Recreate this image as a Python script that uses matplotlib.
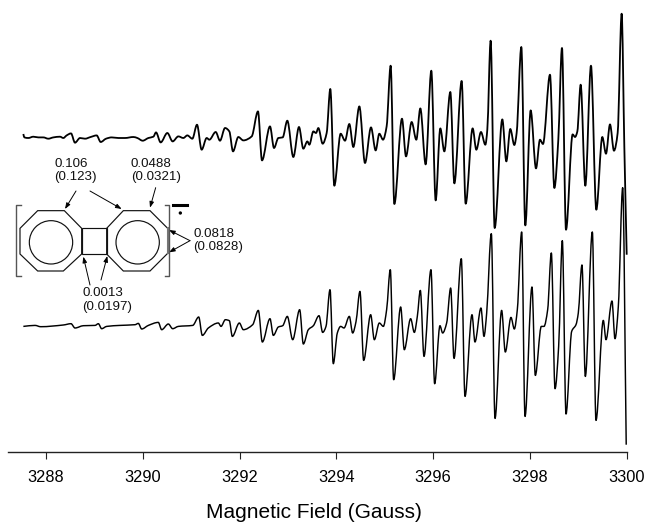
import matplotlib
matplotlib.use("Agg")
import matplotlib.pyplot as plt
from matplotlib.patches import Polygon, Circle, Rectangle, PathPatch
from matplotlib.path import Path
from matplotlib.transforms import Affine2D

plt.rcParams['font.family'] = ['Liberation Sans', 'DejaVu Sans']

upper_field = [3287.534,3287.555,3287.637,3287.740,3287.844,3287.947,3288.050,3288.154,3288.291,3288.360,3288.429,3288.519,
3288.601,3288.705,3288.808,3288.925,3289.049,3289.132,3289.242,3289.359,3289.497,3289.634,3289.807,3289.889,3290.000,3290.117,3290.220,
3290.275,3290.371,3290.509,3290.619,3290.736,3290.840,3290.922,3291.026,3291.122,3291.218,3291.322,3291.377,3291.508,3291.597,3291.701,3291.790,3291.866,
3291.976,3292.079,3292.252,3292.382,3292.465,3292.630,3292.713,3292.802,3292.892,3292.988,3293.112,3293.229,3293.319,3293.402,3293.443,3293.526,3293.581,3293.629,
3293.718,3293.801,3293.876,3293.959,3294.090,3294.180,3294.269,3294.352,3294.476,3294.593,3294.717,3294.813,3294.889,3294.965,3295.040,3295.123,3295.199,
3295.357,3295.440,3295.557,3295.653,3295.736,3295.846,3295.963,3296.053,3296.149,3296.232,3296.356,3296.439,3296.590,3296.673,3296.817,3296.893,3296.989,3297.079,3297.120,
3297.189,3297.272,3297.430,3297.513,3297.595,3297.678,3297.726,3297.823,3297.905,3298.016,3298.126,3298.208,3298.270,3298.415,3298.505,3298.587,3298.663,3298.746,
3298.883,3298.932,3298.980,3299.049,3299.145,3299.262,3299.372,3299.496,3299.572,3299.655,3299.737,3299.813,3299.896,3299.951,3300.000]
upper_signal = [317.7,314.3,313.7,315,314.3,314.3,313,314.3,315,313.7,316.3,318.3,
309,313.7,313,314.7,316.3,309.7,313,314.3,313.7,313.7,314.7,313.7,311,313.7,315,
319.3,309.3,318.7,310.3,315.3,313.7,316.3,313,327,302,313.7,312,319.7,311,323.7,320.3,300.3,
314.7,311.3,315.3,340.3,291.3,325.3,303.7,313.7,314.3,331,294.7,324.7,303,310.3,307,320.3,318.7,323.7,
308,318.7,362.7,266,318,311,327.7,304.7,345.3,288.7,324.3,301.3,318,312,325.3,386,247.7,
333,295.3,329.7,312,343.3,287.3,381,251.3,323.3,300.3,359.7,268.3,370.7,248,323.3,302,319.7,307,322,
411,223.7,332.3,290.3,322.7,306.7,318.7,404.7,226.3,341.3,283.3,312,307.7,377,263.7,312,403.7,222,
317.3,314.7,320.3,367,266,386,242,314.7,298,327.3,301,318.7,438,305,197]

lower_field = [3287.534,3287.775,3287.892,3288.360,3288.519,3288.601,3288.774,3289.015,3289.084,3289.152,3289.256,3289.531,3289.841,3289.910,3289.979,3290.117,
3290.323,3290.392,3290.530,3290.619,3290.736,3291.033,3291.157,3291.232,3291.356,3291.563,3291.618,3291.708,3291.790,3291.852,3291.997,3292.079,3292.272,
3292.389,3292.472,3292.630,3292.699,3292.802,3292.892,3292.988,3293.099,3293.243,3293.319,3293.422,3293.526,3293.643,
3293.718,3293.787,3293.870,3293.938,3294.021,3294.090,3294.159,3294.269,3294.338,3294.407,3294.489,3294.565,3294.710,3294.786,3294.889,3294.972,3295.040,
3295.116,3295.185,3295.330,3295.405,3295.536,3295.612,3295.674,3295.736,3295.812,3295.956,3296.032,3296.142,3296.197,3296.280,3296.363,3296.432,3296.583,3296.659,
3296.804,3296.865,3296.989,3297.051,3297.107,3297.203,3297.279,3297.416,3297.492,3297.609,3297.678,3297.740,3297.830,3297.899,3298.043,3298.112,3298.236,3298.291,
3298.367,3298.443,3298.519,3298.594,3298.670,3298.746,3298.863,3298.952,3299.000,3299.076,3299.145,3299.290,3299.365,3299.517,3299.572,3299.696,3299.758,3299.827,3299.917,3299.990]
lower_signal = [125.3,126.3,125,126.7,128,123.7,126,126.3,128,123,125.3,126.3,127,128.3,122.7,126.3,
129.3,122,127.7,123,125.3,126.3,134.7,116.3,123.7,128.7,125.3,132,131,115.3,128.7,122,127,
141.3,109.7,133,116.3,124.7,126,135.3,112,142,107.7,122,126,136,
119.3,125.3,162,88,118.7,125.3,123.7,135.3,118.7,130,160.3,91.3,137,112,128.7,125.3,142,
182,72,144.7,102,133,119.3,135.3,161.3,95.3,182,68,126,118.7,128.7,163.7,93.3,193,55.3,
137,109.7,143.7,115.3,138.7,218,33.3,141.3,99.7,134.3,122.7,142,219.7,35.3,164.7,76.3,125.3,125.3,
142,198.7,63,105.3,211,37.7,120.3,127,138.7,186.7,75.3,219.7,31.3,131.3,112,150.7,113,145.3,264,7]

tick_values = [3288, 3290, 3292, 3294, 3296, 3298, 3300]
x_label = "Magnetic Field (Gauss)"


def smooth_path(xs, ys):
    """Bezier path through the read points, rounded at the extrema."""
    n = len(xs)
    d = [(ys[i+1]-ys[i])/(xs[i+1]-xs[i]) for i in range(n-1)]
    m = [d[0]] + [0.0]*(n-2) + [d[-1]]
    for i in range(1, n-1):
        if d[i-1]*d[i] > 0:
            m[i] = 2*d[i-1]*d[i]/(d[i-1]+d[i])
    verts = [(xs[0], ys[0])]
    codes = [Path.MOVETO]
    for i in range(n-1):
        h = xs[i+1]-xs[i]
        verts += [(xs[i]+h/3, ys[i]+m[i]*h/3), (xs[i+1]-h/3, ys[i+1]-m[i+1]*h/3), (xs[i+1], ys[i+1])]
        codes += [Path.CURVE4]*3
    return Path(verts, codes)


W, H = 647, 523
fig = plt.figure(figsize=(W/100, H/100), dpi=100, facecolor='white')
L, R, B = 8, 627, 451.7
ax = fig.add_axes([L/W, (H-B)/H, (R-L)/W, B/H])
scale = 48.4
ax.set_xlim(3300-(626.7-L)/scale, 3300+(R-626.7)/scale)
ax.set_ylim(0, B)
ax.patch.set_alpha(0)
for s in ('top', 'left', 'right'):
    ax.spines[s].set_visible(False)
ax.spines['bottom'].set_linewidth(1.0)
ax.spines['bottom'].set_color('#222222')
ax.set_yticks([])
ax.set_xticks(tick_values)
ax.set_xticklabels([str(t) for t in tick_values], fontsize=11.8)
ax.tick_params(axis='x', length=5, width=0.8, pad=8, color='#222222')
ax.set_xlabel(x_label, fontsize=15)
ax.xaxis.set_label_coords((313.5-L)/(R-L), -(513-B)/B, transform=ax.transAxes)
ax.xaxis.label.set_verticalalignment('center')

ax.add_patch(PathPatch(smooth_path(upper_field, upper_signal), fill=False, ec='black', lw=1.3,
                       clip_on=False, joinstyle='round'))
ax.add_patch(PathPatch(smooth_path(lower_field, lower_signal), fill=False, ec='black', lw=1.05,
                       clip_on=False, joinstyle='round'))

# Molecular structure inset
px = Affine2D().scale(1/3, 1/3).translate(0, 140).scale(1/W, -1/H).translate(0, 1) + fig.transFigure
lw_s = 0.85
left_oct = [(113,212),(193,212),(245,265),(245,342),(190,393),(113,393),(60,342),(60,265)]
right_oct = [(370,212),(450,212),(503,265),(503,340),(450,393),(370,393),(320,342),(320,265)]
for pts in (left_oct, right_oct):
    fig.add_artist(Polygon(pts, closed=True, fill=False, ec='#111111', lw=lw_s, transform=px))
fig.add_artist(Rectangle((245,265), 75, 77, fill=False, ec='#111111', lw=lw_s, transform=px))
for c in ((153,307),(413,307)):
    fig.add_artist(Circle(c, 65, fill=False, ec='#111111', lw=lw_s, transform=px))
fig.add_artist(plt.Line2D([503,503],[265,340], color='#777777', lw=1.5, transform=px))
fig.add_artist(plt.Line2D([62,47,47,62],[195,195,407,407], color='#555555', lw=1.0, transform=px))
fig.add_artist(plt.Line2D([495,508,508,495],[195,195,407,407], color='#555555', lw=1.0, transform=px))
fig.add_artist(plt.Line2D([520,561],[195,195], color='black', lw=2.2, transform=px))
fig.add_artist(Circle((541,219), 5, fc='black', ec='none', transform=px))

labels = [(163,92,"0.106\n(0.123)"), (393,92,"0.0488\n(0.0321)"),
          (580,301,"0.0818\n(0.0828)"), (247,480,"0.0013\n(0.0197)")]
for x, y, s in labels:
    fig.text(x, y, s, transform=px, fontsize=9.6, ha='left', va='center', linespacing=1.12, color='#111111')

arrows = [((228,153),(195,207)), ((270,153),(365,207)), ((467,143),(450,203)),
          ((570,302),(507,270)), ((570,302),(507,337)),
          ((270,435),(250,350)), ((303,420),(322,348))]
for a, b in arrows:
    ax.annotate('', xy=b, xytext=a, xycoords=px, textcoords=px, annotation_clip=False,
                arrowprops=dict(arrowstyle='-|>,head_length=0.35,head_width=0.13', color='black',
                                lw=0.7, shrinkA=0, shrinkB=0))

fig.savefig('out.png', dpi=100)
